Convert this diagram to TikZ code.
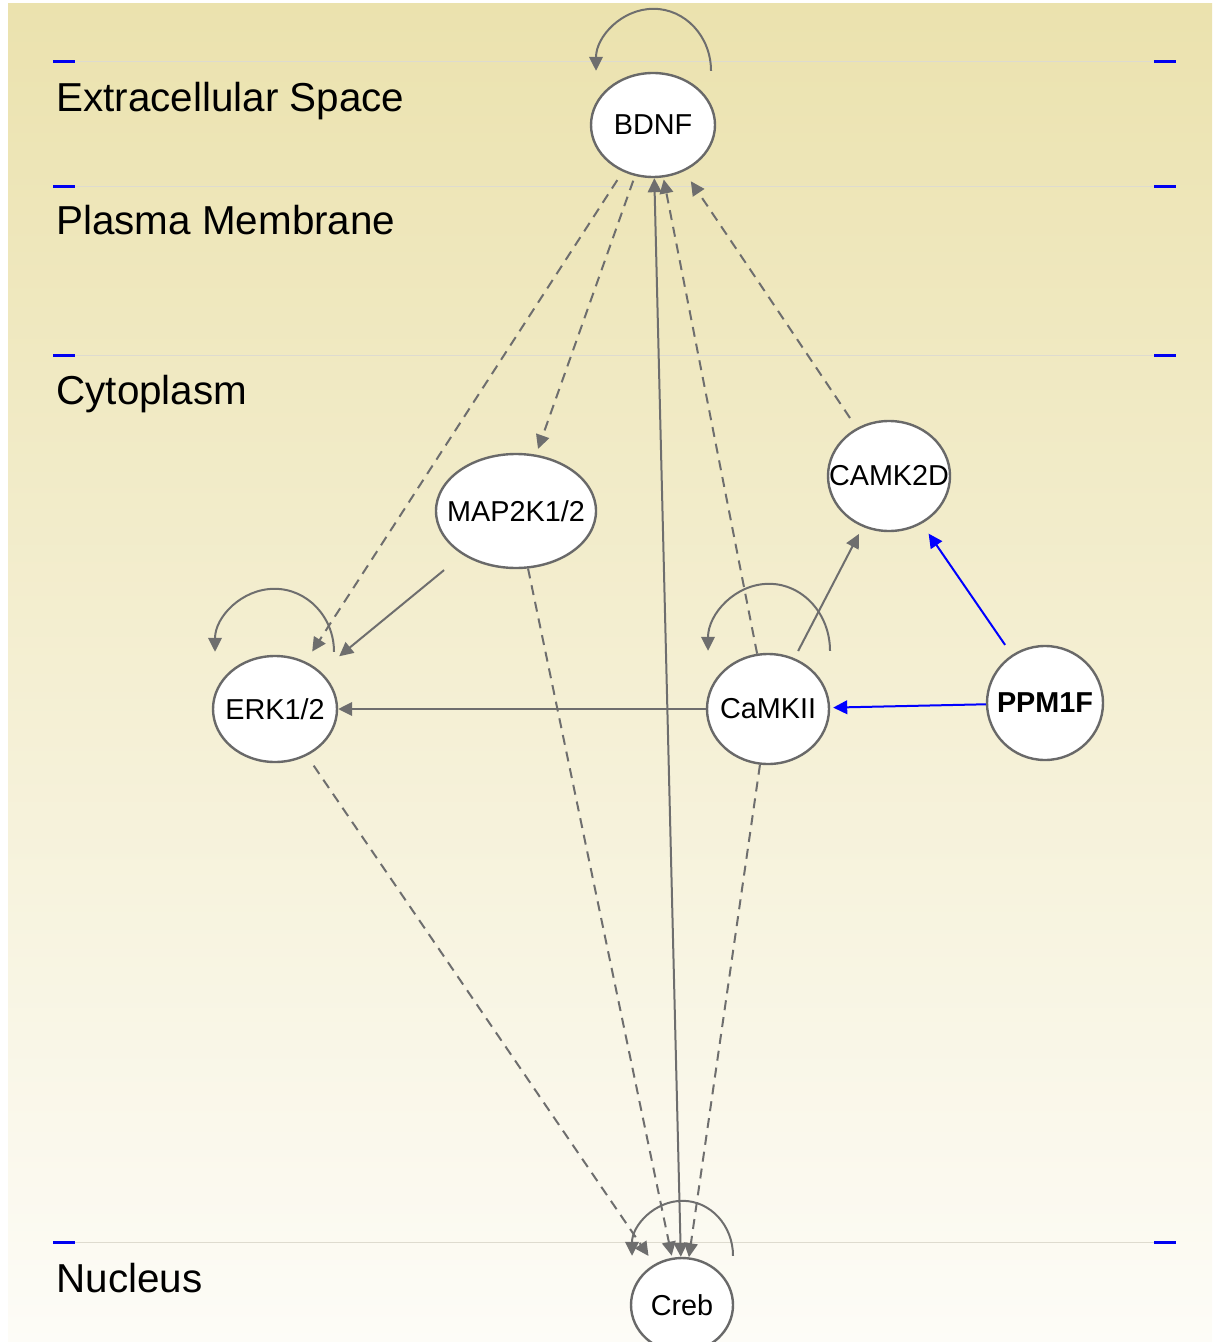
\documentclass[tikz,border=0pt]{standalone}
\usepackage{fontspec}
\setmainfont{Liberation Sans}
\usetikzlibrary{arrows.meta,shapes.geometric,calc}
\definecolor{edgegray}{RGB}{110,110,110}
\definecolor{nodegray}{RGB}{105,105,105}
\definecolor{bgtop}{RGB}{235,226,174}
\definecolor{bgbot}{RGB}{253,252,247}
\definecolor{lanegray}{RGB}{222,219,207}
\definecolor{laneblue}{RGB}{0,0,240}
\definecolor{linkblue}{RGB}{0,0,255}
\begin{document}
\begin{tikzpicture}[x=0.5pt,y=-0.5pt,
  gene/.style={ellipse,draw=nodegray,line width=1.2pt,fill=white,inner sep=0pt,
    font=\fontsize{14.4}{17}\selectfont},
  lane/.style={anchor=base west,inner sep=0pt,font=\fontsize{20.2}{24}\selectfont},
  tip/.style={-{Triangle[length=7pt,width=6.8pt]}},
  ed/.style={draw=edgegray,line width=1pt,tip},
  bl/.style={draw=linkblue,line width=1pt,-{Triangle[length=7pt,width=6.8pt,fill=linkblue]}},
  dsh/.style={dash pattern=on 5pt off 3.5pt},
  laneline/.style={draw=lanegray,line width=0.5pt},
  lanemark/.style={draw=laneblue,line width=1.5pt}]
\useasboundingbox (0,0) rectangle (1212,1342);
\fill[white] (0,0) rectangle (1212,1342);
\shade[top color=bgtop,bottom color=bgbot] (8,4) rectangle (1212,1342);
% lanes
\foreach \yy in {62,187,355,1242}{
  \draw[laneline] (75,\yy) -- (1154,\yy);
  \draw[lanemark] (53,\yy) -- (75,\yy);
  \draw[lanemark] (1154,\yy) -- (1176,\yy);
}
\node[lane] (lex) at (56,112) {Extracellular Space};
\node[lane] (lpm) at (56,235) {Plasma Membrane};
\node[lane] (lcy) at (56,404) {Cytoplasm};
\node[lane] (lnu) at (56,1292) {Nucleus};
% nodes
\node[gene,minimum width=62pt,minimum height=52pt] (BDNF) at (653,125) {\makebox[0pt]{BDNF}};
\node[gene,minimum width=80pt,minimum height=57pt] (MAP) at (516,511) {\makebox[0pt]{MAP2K1/2}};
\node[gene,minimum width=61pt,minimum height=55pt] (CAMK2D) at (889,476) {\makebox[0pt]{CAMK2D}};
\node[gene,minimum width=62pt,minimum height=53pt] (ERK) at (275,709) {\makebox[0pt]{ERK1/2}};
\node[gene,minimum width=61pt,minimum height=55pt] (CaMKII) at (768,709) {\makebox[0pt]{CaMKII}};
\node[gene,minimum width=58pt,minimum height=57pt] (PPM1F) at (1045,703) {\makebox[0pt]{\bfseries PPM1F}};
\node[gene,minimum width=51pt,minimum height=47pt] (Creb) at (682,1305) {\makebox[0pt]{Creb}};
% self loops
\draw[ed] ($(BDNF.north)+(58,-1)$) arc[start angle=0,end angle=180,x radius=28.75pt,y radius=31pt];
\draw[ed] ($(ERK.north)+(59,-3)$) arc[start angle=0,end angle=180,x radius=29.75pt,y radius=31.5pt];
\draw[ed] ($(CaMKII.north)+(62,-2)$) arc[start angle=0,end angle=180,x radius=30.5pt,y radius=33.5pt];
\draw[ed] ($(Creb.north)+(51,-1)$) arc[start angle=0,end angle=180,x radius=25.25pt,y radius=27.5pt];
% edges
\draw[ed,dsh,shorten <=5pt,shorten >=6pt] (BDNF) -- (ERK);
\draw[ed,dsh,shorten <=2.5pt,shorten >=3pt] (BDNF) -- (MAP);
\draw[ed,{Triangle[length=7pt,width=6.8pt]}-{Triangle[length=7pt,width=6.8pt]}] (Creb) -- (BDNF);
\draw[ed,dsh,shorten >=1pt] (CaMKII) -- (BDNF);
\draw[ed,dsh,shorten <=6pt,shorten >=6pt] (CAMK2D) -- (BDNF);
\draw[ed,shorten <=12pt,shorten >=12pt] (MAP) -- (ERK);
\draw[ed,shorten <=4pt,shorten >=4pt] (CaMKII) -- (CAMK2D);
\draw[ed] (CaMKII) -- (ERK);
\draw[bl,shorten <=6pt,shorten >=6pt] (PPM1F) -- (CAMK2D);
\draw[bl,shorten >=1.5pt] (PPM1F) -- (CaMKII);
\draw[ed,dsh,shorten <=6pt,shorten >=5pt] (ERK) -- (Creb);
\draw[ed,dsh,shorten >=1pt] (MAP) -- (Creb);
\draw[ed,dsh] (CaMKII) -- (Creb);
\end{tikzpicture}
\end{document}
